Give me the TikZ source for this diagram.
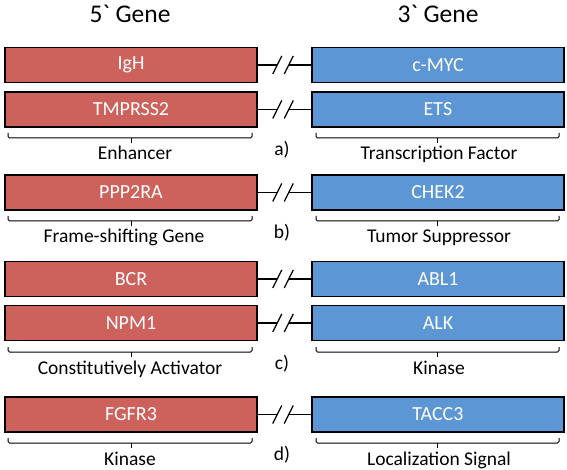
\documentclass[tikz,border=0pt]{standalone}
\usepackage{fontspec}
\setmainfont{Carlito}
\newfontfamily\hdrfont{Carlito}[Ligatures=TeXOff]
\usetikzlibrary{calc}
\definecolor{genered}{RGB}{205,97,92}
\definecolor{geneblue}{RGB}{92,150,212}
\begin{document}
\begin{tikzpicture}[x=1pt,y=-1pt,
  genebox/.style={draw=black,line width=1.5pt,minimum width=252pt,minimum height=35pt,inner sep=0pt,text=white,font=\fontsize{20}{24}\selectfont},
  redbox/.style={genebox,fill=genered},
  bluebox/.style={genebox,fill=geneblue},
  header/.style={font=\hdrfont\fontsize{25.5}{30}\selectfont,anchor=base,inner sep=0pt},
  lbl/.style={font=\fontsize{19.5}{23}\selectfont,anchor=base,inner sep=0pt},
  brace/.style={line width=1pt,rounded corners=1.5pt},
  link/.style={line width=1.3pt}]
\useasboundingbox (0,0) rectangle (567,470);
\node[header] (h5) at (130,22.5) {5` Gene};
\node[header] (h3) at (438,22.5) {3` Gene};
% rows
\node[redbox] (igh) at (131,65) {IgH};
\node[bluebox] (myc) at (438,65) {c-MYC};
\node[redbox] (tmp) at (131,109.5) {TMPRSS2};
\node[bluebox] (ets) at (438,109.5) {ETS};
\node[redbox] (ppp) at (131,192.5) {PPP2RA};
\node[bluebox] (chk) at (438,192.5) {CHEK2};
\node[redbox] (bcr) at (131,279) {BCR};
\node[bluebox] (abl) at (438,279) {ABL1};
\node[redbox] (npm) at (131,323) {NPM1};
\node[bluebox] (alk) at (438,323) {ALK};
\node[redbox] (fgf) at (131,414.5) {FGFR3};
\node[bluebox] (tac) at (438,414.5) {TACC3};
% connectors
\foreach \a/\b in {igh/myc,tmp/ets,ppp/chk,bcr/abl,npm/alk,fgf/tac}{
  \coordinate (L) at ($(\a.east)+(19.5,0)$);
  \coordinate (R) at ($(\b.west)+(-22.5,0)$);
  \draw[link] (\a.east) -- (L);
  \draw[link] (R) -- (\b.west);
  \draw[link] ($(L)+(-4.5,9)$) -- ($(L)+(4.5,-9)$);
  \draw[link] ($(R)+(-4.5,9)$) -- ($(R)+(4.5,-9)$);
}
% brackets and labels
\foreach \y/\la/\lx/\lb/\tag in {138/Enhancer/135/Transcription Factor/a),
  221/Frame-shifting Gene/124/Tumor Suppressor/b),
  352/Constitutively Activator/130/Kinase/c),
  443/Kinase/130/Localization Signal/d)}{
  \draw[brace] (8,\y-5) -- (8,\y) -- (252,\y) -- (252,\y-5);
  \draw[brace] (131,\y) -- (131,\y+5);
  \draw[brace] (316,\y-5) -- (316,\y) -- (559,\y) -- (559,\y-5);
  \draw[brace] (437,\y) -- (437,\y+5);
  \node[lbl] at (\lx,\y+22) {\la};
  \node[lbl] at (439,\y+22) {\lb};
  \node[lbl] at (282,\y+17.5) {\tag};
}
\end{tikzpicture}
\end{document}
